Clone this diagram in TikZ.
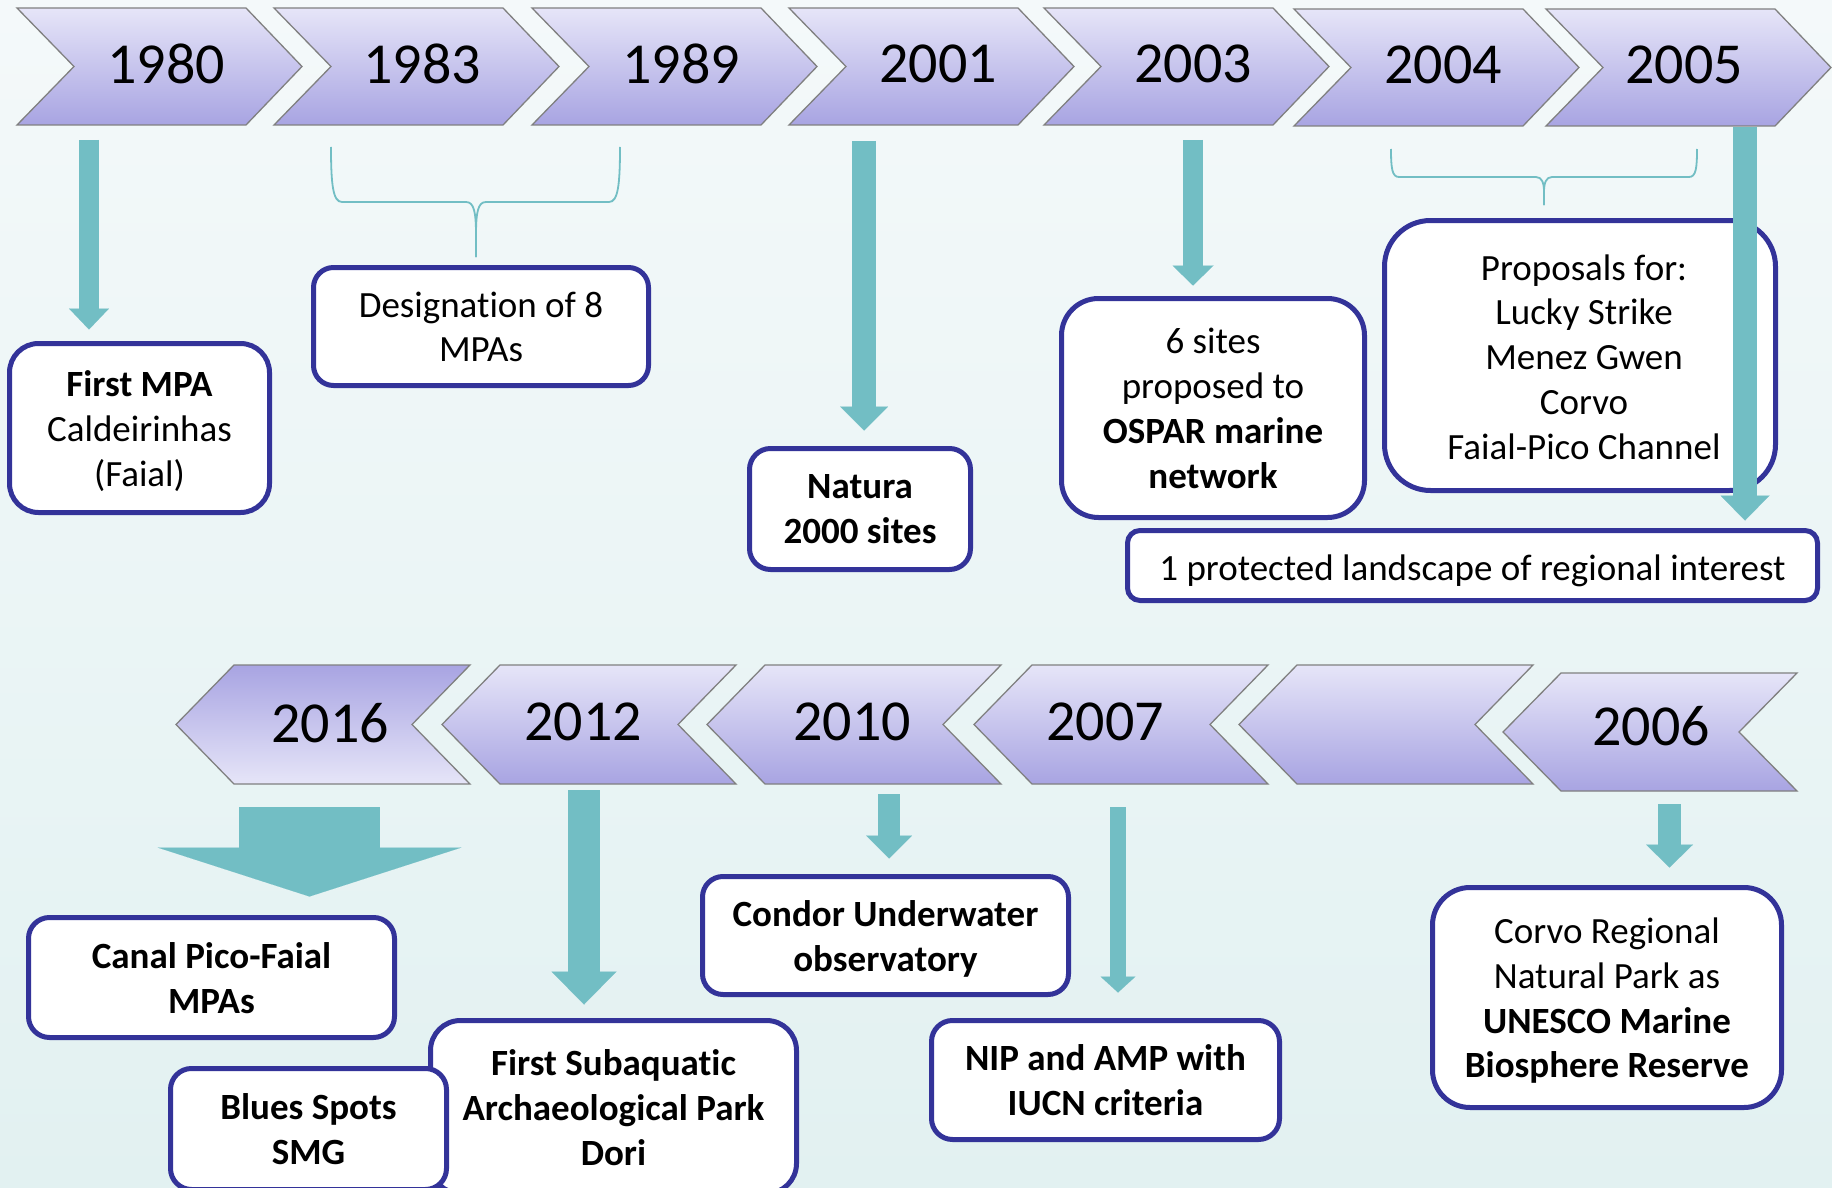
\documentclass[tikz,border=0pt]{standalone}
\usepackage{fontspec}
\setmainfont{Carlito}[Ligatures={NoCommon}]
\usetikzlibrary{arrows.meta,calc}
\definecolor{tealA}{RGB}{114,190,196}
\definecolor{boxblue}{RGB}{51,51,153}
\definecolor{chevtop}{RGB}{230,229,248}
\definecolor{chevbot}{RGB}{168,164,226}
\definecolor{chevline}{RGB}{128,128,128}
\definecolor{bgtop}{RGB}{244,249,250}
\definecolor{bgbot}{RGB}{226,241,241}
\newcommand{\TopChev}[4]{%
  \path[#4] (#1,#2) -- ({#1+229},#2) -- ({#1+285},{(#2+#3)/2}) -- ({#1+229},#3) -- (#1,#3) -- ({#1+57},{(#2+#3)/2}) -- cycle;}
\newcommand{\BotChev}[4]{%
  \path[#4] (#1,{(#2+#3)/2}) -- ({#1+58},#2) -- ({#1+294},#2) -- ({#1+236},{(#2+#3)/2}) -- ({#1+294},#3) -- ({#1+58},#3) -- cycle;}
\tikzset{
  chevup/.style={draw=chevline, line width=1.3pt, top color=chevtop, bottom color=chevbot},
  chevdown/.style={draw=chevline, line width=1.3pt, top color=chevbot, bottom color=chevtop},
  yeartext/.style={font=\fontsize{58}{70}\selectfont, inner sep=0pt, anchor=center},
  evbox/.style={draw=boxblue, line width=5pt, fill=white, inner sep=0pt},
  evtext/.style={inner sep=0pt, align=center, font=\fontsize{37}{44.8}\selectfont,
    execute at begin node=\strut, execute at end node=\strut},
  bracestyle/.style={draw=tealA, line width=1.8pt},
  barrow/.style n args={4}{draw=tealA, line width=#1,
    -{Triangle[width=#2, length=#3, line width=0.01pt]}, shorten >=#4}
}
\begin{document}
\begin{tikzpicture}[x=1pt,y=-1pt]
\path[use as bounding box] (0,0) rectangle (1832,1188);
\clip (0,0) rectangle (1832,1188);
\fill[top color=bgtop, bottom color=bgbot] (0,0) rectangle (1832,1188);

% ---------- top row chevrons ----------
\TopChev{17}{8}{125}{chevup}
\TopChev{274}{8}{125}{chevup}
\TopChev{532}{8}{125}{chevup}
\TopChev{789}{8}{125}{chevup}
\TopChev{1044}{8}{125}{chevup}
\TopChev{1294}{9}{126}{chevup}
\TopChev{1546}{9}{126}{chevup}
\node[yeartext] (y1980) at (166,64) {1980};
\node[yeartext] (y1983) at (422,64) {1983};
\node[yeartext] (y1989) at (681,64) {1989};
\node[yeartext] (y2001) at (938,64) {2001};
\node[yeartext] (y2003) at (1193,64) {2003};
\node[yeartext] (y2004) at (1443,65) {2004};
\node[yeartext] (y2005) at (1684,65) {2005};

% ---------- bottom row chevrons ----------
\BotChev{176}{665}{784}{chevdown}
\BotChev{442}{665}{784}{chevup}
\BotChev{707}{665}{784}{chevup}
\BotChev{974}{665}{784}{chevup}
\BotChev{1239}{665}{784}{chevup}
\BotChev{1503}{673}{791}{chevup}
\node[yeartext] (y2016) at (330,723) {2016};
\node[yeartext] (y2012) at (583,722) {2012};
\node[yeartext] (y2010) at (852,722) {2010};
\node[yeartext] (y2007) at (1105,722) {2007};
\node[yeartext] (y2006) at (1651,726) {2006};

% ---------- braces ----------
\path[bracestyle] (331,147) .. controls (331,185) and (333,202) .. (342,202) -- (466,202)
  .. controls (474,202) and (476,212) .. (476,235) -- (476,257);
\path[bracestyle] (620,147) .. controls (620,185) and (618,202) .. (609,202) -- (486,202)
  .. controls (478,202) and (476,212) .. (476,235) -- (476,257);
\path[bracestyle] (1391,149) .. controls (1391,168) and (1392,177) .. (1399,177) -- (1536,177)
  .. controls (1542,177) and (1544,183) .. (1544,192) -- (1544,205);
\path[bracestyle] (1697,149) .. controls (1697,168) and (1696,177) .. (1689,177) -- (1552,177)
  .. controls (1546,177) and (1544,183) .. (1544,192) -- (1544,205);

% ---------- boxes ----------
\node[evbox, minimum width=260pt, minimum height=169pt, rounded corners=29pt] (b1) at (139.5,428) {};
\node[evtext] (t1) at ([yshift=-7pt]b1.center) {\textbf{First MPA}\\Caldeirinhas\\(Faial)};
\node[evbox, minimum width=335pt, minimum height=118pt, rounded corners=20pt] (b2) at (481,326.5) {};
\node[evtext] (t2) at ([yshift=-7pt]b2.center) {Designation of 8\\MPAs};
\node[evbox, minimum width=221pt, minimum height=121pt, rounded corners=21pt] (b3) at (860,509) {};
\node[evtext] (t3) at ([yshift=-7pt]b3.center) {\textbf{Natura}\\\textbf{2000 sites}};
\node[evbox, minimum width=303pt, minimum height=219pt, rounded corners=37pt] (b4) at (1213,408) {};
\node[evtext] (t4) at ([yshift=-7pt]b4.center) {6 sites\\proposed to\\\textbf{OSPAR marine}\\\textbf{network}};
\node[evbox, minimum width=391pt, minimum height=270pt, rounded corners=46pt] (b5) at (1580,355.5) {};
\node[evtext] (t5) at ([yshift=-8pt,xshift=4pt]b5.center) {Proposals for:\\Lucky Strike\\Menez Gwen\\Corvo\\Faial-Pico Channel};
\node[evbox, minimum width=690pt, minimum height=70pt, rounded corners=12.5pt] (b6) at (1472.5,565.5) {};
\node[evtext] (t6) at ([yshift=-6pt]b6.center) {1 protected landscape of regional interest};
\node[evbox, minimum width=366pt, minimum height=120pt, rounded corners=21pt] (b7) at (211.5,977.5) {};
\node[evtext] (t7) at ([yshift=-7pt]b7.center) {\textbf{Canal Pico-Faial}\\\textbf{MPAs}};
\node[evbox, minimum width=366pt, minimum height=173pt, rounded corners=30pt] (b9) at (613.5,1107) {};
\node[evtext] (t9) at ([yshift=-7pt]b9.center) {\textbf{First Subaquatic}\\\textbf{Archaeological Park}\\\textbf{Dori}};
\node[evbox, minimum width=276pt, minimum height=121pt, rounded corners=21pt] (b8) at (308.5,1129) {};
\node[evtext] (t8) at ([yshift=-7pt]b8.center) {\textbf{Blues Spots}\\\textbf{SMG}};
\node[evbox, minimum width=366pt, minimum height=118pt, rounded corners=20.5pt] (b10) at (885.5,935.5) {};
\node[evtext] (t10) at ([yshift=-7pt]b10.center) {\textbf{Condor Underwater}\\\textbf{observatory}};
\node[evbox, minimum width=348pt, minimum height=119pt, rounded corners=21pt] (b11) at (1105.5,1080) {};
\node[evtext] (t11) at ([yshift=-7pt]b11.center) {\textbf{NIP and AMP with}\\\textbf{IUCN criteria}};
\node[evbox, minimum width=349pt, minimum height=220pt, rounded corners=37.5pt] (b12) at (1607,997.5) {};
\node[evtext] (t12) at ([yshift=-7pt]b12.center) {Corvo Regional\\Natural Park as\\\textbf{UNESCO Marine}\\\textbf{Biosphere Reserve}};

% ---------- block arrows ----------
\coordinate (s1980) at (89,140);
\coordinate (s2001) at (864,141);
\coordinate (s2003) at (1193,140);
\coordinate (s2005) at (1745,127);
\coordinate (s2016) at (309.5,807);
\coordinate (s2012) at (584,790);
\coordinate (s2010) at (889,794);
\coordinate (s2007) at (1118,807);
\coordinate (s2006) at (1669.5,804);
\draw[barrow={20pt}{40pt}{21pt}{11.5pt}] (s1980) -- (s1980 |- b1.north);
\draw[barrow={24pt}{48pt}{24pt}{15.5pt}] (s2001) -- (s2001 |- b3.north);
\draw[barrow={20pt}{41pt}{20pt}{10.5pt}] (s2003) -- (s2003 |- b4.north);
\draw[barrow={24pt}{49pt}{25pt}{7.5pt}] (s2005) -- (s2005 |- b6.north);
\draw[barrow={141pt}{304pt}{49pt}{18.5pt}] (s2016) -- (s2016 |- b7.north);
\draw[barrow={32pt}{65pt}{33pt}{13.5pt}] (s2012) -- (s2012 |- b9.north);
\draw[barrow={22pt}{46pt}{23pt}{15.5pt}] (s2010) -- (s2010 |- b10.north);
\draw[barrow={16pt}{35pt}{16pt}{25.5pt}] (s2007) -- (s2007 |- b11.north);
\draw[barrow={23pt}{47pt}{23pt}{17.5pt}] (s2006) -- (s2006 |- b12.north);
\end{tikzpicture}
\end{document}
